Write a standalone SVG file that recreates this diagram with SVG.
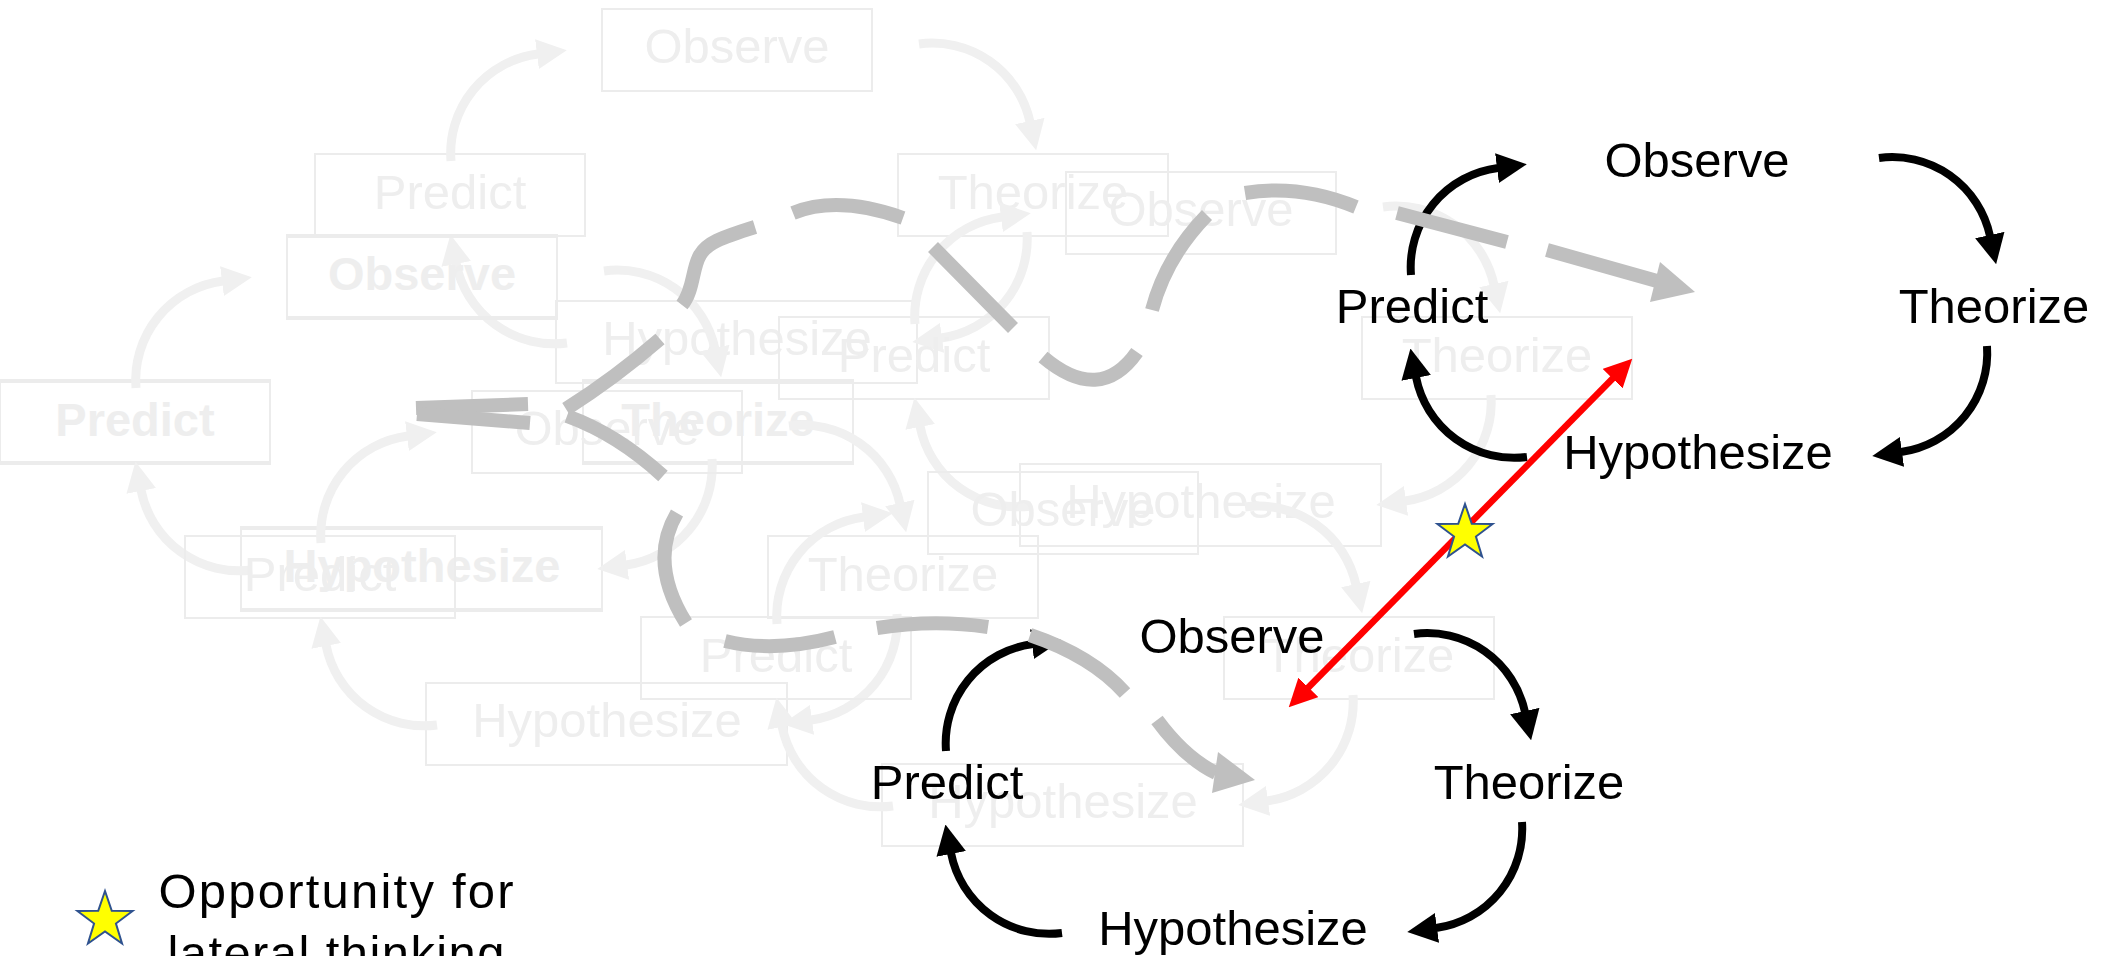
<svg xmlns="http://www.w3.org/2000/svg" xmlns:xlink="http://www.w3.org/1999/xlink" width="2116" height="956" viewBox="0 0 2116 956">
<style>
.fbox{fill:none;stroke:#ececec;stroke-width:2}
.ftext{font-family:'Liberation Sans',Arial,sans-serif;font-size:49px;fill:#eeeeee;text-anchor:middle}
.fbold{font-weight:bold;font-size:47px}
.farrow{fill:none;stroke:#f0f0f0;stroke-width:9;marker-end:url(#ah-faded)}
.btext{font-family:'Liberation Sans',Arial,sans-serif;font-size:49px;fill:#000;text-anchor:middle}
.barrow{fill:none;stroke:#000;stroke-width:8;marker-end:url(#ah-black)}
.dash{fill:none;stroke:#bfbfbf;stroke-width:14;stroke-linecap:butt}
.dhead{fill:#bfbfbf}
.star{fill:#ffff00;stroke:#2f528f;stroke-width:2;stroke-linejoin:miter}
.legend{font-family:'Liberation Sans',Arial,sans-serif;font-size:49px;fill:#000;text-anchor:middle}
</style>
<defs>
<marker id="ah-black" viewBox="0 0 30 30" refX="1" refY="15" markerWidth="30" markerHeight="30" markerUnits="userSpaceOnUse" orient="auto"><path d="M0,0 L30,15 L0,30 z" fill="#000"/></marker>
<marker id="ah-faded" viewBox="0 0 30 30" refX="1" refY="15" markerWidth="30" markerHeight="30" markerUnits="userSpaceOnUse" orient="auto"><path d="M0,0 L30,15 L0,30 z" fill="#f0f0f0"/></marker>
<marker id="ah-red" viewBox="0 0 28 28" refX="1" refY="14" markerWidth="28" markerHeight="28" markerUnits="userSpaceOnUse" orient="auto-start-reverse"><path d="M0,0 L28,14 L0,28 z" fill="#ff0000"/></marker>
<path id="star5" d="M0,-29 L6.76,-9.3 L27.58,-8.96 L10.94,3.55 L17.05,23.46 L0,11.5 L-17.05,23.46 L-10.94,3.55 L-27.58,-8.96 L-6.76,-9.3 Z"/>
</defs>
<rect width="2116" height="956" fill="#ffffff"/>

<!-- Faded cycle A -->
<g id="cycle-a" transform="translate(737,50)">
  <g id="a-observe"><rect class="fbox" x="-135" y="-41" width="270" height="82"/><text class="ftext" x="0" y="13">Observe</text></g>
  <g id="a-theorize"><rect class="fbox" x="161" y="104" width="270" height="82"/><text class="ftext" x="296" y="159">Theorize</text></g>
  <g id="a-hypothesize"><rect class="fbox" x="-181" y="251" width="361" height="82"/><text class="ftext" x="0" y="305">Hypothesize</text></g>
  <g id="a-predict"><rect class="fbox" x="-422" y="104" width="270" height="82"/><text class="ftext" x="-287" y="159">Predict</text></g>
  <g id="a-arrows">
    <path class="farrow" d="M-286,111 A100,100 0 0 1 -199,4"/>
    <path class="farrow" d="M182,-6 A100,100 0 0 1 293,72"/>
    <path class="farrow" d="M290,182 A100,100 0 0 1 204,288"/>
    <path class="farrow" d="M-170,293 A100,100 0 0 1 -281,213"/>
  </g>
</g>

<!-- Faded cycle B (bold) -->
<g id="cycle-b" transform="translate(422,277)">
  <g id="b-observe"><rect class="fbox" x="-135" y="-42" width="270" height="82"/><rect class="fbox" x="-135" y="-40" width="270" height="82"/><text class="ftext fbold" x="0" y="13">Observe</text></g>
  <g id="b-theorize"><rect class="fbox" x="161" y="103" width="270" height="82"/><rect class="fbox" x="161" y="105" width="270" height="82"/><text class="ftext fbold" x="296" y="159">Theorize</text></g>
  <g id="b-hypothesize"><rect class="fbox" x="-181" y="250" width="361" height="82"/><rect class="fbox" x="-181" y="252" width="361" height="82"/><text class="ftext fbold" x="0" y="305">Hypothesize</text></g>
  <g id="b-predict"><rect class="fbox" x="-422" y="103" width="270" height="82"/><rect class="fbox" x="-422" y="105" width="270" height="82"/><text class="ftext fbold" x="-287" y="159">Predict</text></g>
  <g id="b-arrows">
    <path class="farrow" d="M-286,111 A100,100 0 0 1 -199,4"/>
    <path class="farrow" d="M182,-6 A100,100 0 0 1 293,72"/>
    <path class="farrow" d="M290,182 A100,100 0 0 1 204,288"/>
    <path class="farrow" d="M-170,293 A100,100 0 0 1 -281,213"/>
  </g>
</g>

<!-- Faded cycle C -->
<g id="cycle-c" transform="translate(1201,213)">
  <g id="c-observe"><rect class="fbox" x="-135" y="-41" width="270" height="82"/><text class="ftext" x="0" y="13">Observe</text></g>
  <g id="c-theorize"><rect class="fbox" x="161" y="104" width="270" height="82"/><text class="ftext" x="296" y="159">Theorize</text></g>
  <g id="c-hypothesize"><rect class="fbox" x="-181" y="251" width="361" height="82"/><text class="ftext" x="0" y="305">Hypothesize</text></g>
  <g id="c-predict"><rect class="fbox" x="-422" y="104" width="270" height="82"/><text class="ftext" x="-287" y="159">Predict</text></g>
  <g id="c-arrows">
    <path class="farrow" d="M-286,111 A100,100 0 0 1 -199,4"/>
    <path class="farrow" d="M182,-6 A100,100 0 0 1 293,72"/>
    <path class="farrow" d="M290,182 A100,100 0 0 1 204,288"/>
    <path class="farrow" d="M-170,293 A100,100 0 0 1 -281,213"/>
  </g>
</g>

<!-- Faded cycle D -->
<g id="cycle-d" transform="translate(607,432)">
  <g id="d-observe"><rect class="fbox" x="-135" y="-41" width="270" height="82"/><text class="ftext" x="0" y="13">Observe</text></g>
  <g id="d-theorize"><rect class="fbox" x="161" y="104" width="270" height="82"/><text class="ftext" x="296" y="159">Theorize</text></g>
  <g id="d-hypothesize"><rect class="fbox" x="-181" y="251" width="361" height="82"/><text class="ftext" x="0" y="305">Hypothesize</text></g>
  <g id="d-predict"><rect class="fbox" x="-422" y="104" width="270" height="82"/><text class="ftext" x="-287" y="159">Predict</text></g>
  <g id="d-arrows">
    <path class="farrow" d="M-286,111 A100,100 0 0 1 -199,4"/>
    <path class="farrow" d="M182,-6 A100,100 0 0 1 293,72"/>
    <path class="farrow" d="M290,182 A100,100 0 0 1 204,288"/>
    <path class="farrow" d="M-170,293 A100,100 0 0 1 -281,213"/>
  </g>
</g>

<!-- Faded cycle E -->
<g id="cycle-e" transform="translate(1063,513)">
  <g id="e-observe"><rect class="fbox" x="-135" y="-41" width="270" height="82"/><text class="ftext" x="0" y="13">Observe</text></g>
  <g id="e-theorize"><rect class="fbox" x="161" y="104" width="270" height="82"/><text class="ftext" x="296" y="159">Theorize</text></g>
  <g id="e-hypothesize"><rect class="fbox" x="-181" y="251" width="361" height="82"/><text class="ftext" x="0" y="305">Hypothesize</text></g>
  <g id="e-predict"><rect class="fbox" x="-422" y="104" width="270" height="82"/><text class="ftext" x="-287" y="159">Predict</text></g>
  <g id="e-arrows">
    <path class="farrow" d="M-286,111 A100,100 0 0 1 -199,4"/>
    <path class="farrow" d="M182,-6 A100,100 0 0 1 293,72"/>
    <path class="farrow" d="M290,182 A100,100 0 0 1 204,288"/>
    <path class="farrow" d="M-170,293 A100,100 0 0 1 -281,213"/>
  </g>
</g>

<!-- Black cycle 1 -->
<g id="cycle-1" transform="translate(1697,164)">
  <g id="k1-observe"><text class="btext" x="0" y="13">Observe</text></g>
  <g id="k1-theorize"><text class="btext" x="297" y="159">Theorize</text></g>
  <g id="k1-hypothesize"><text class="btext" x="1" y="305">Hypothesize</text></g>
  <g id="k1-predict"><text class="btext" x="-285" y="159">Predict</text></g>
  <g id="k1-arrows">
    <path class="barrow" d="M-286,111 A100,100 0 0 1 -199,4"/>
    <path class="barrow" d="M182,-6 A100,100 0 0 1 293,72"/>
    <path class="barrow" d="M290,182 A100,100 0 0 1 204,288"/>
    <path class="barrow" d="M-170,293 A100,100 0 0 1 -281,213"/>
  </g>
</g>

<!-- Black cycle 2 -->
<g id="cycle-2" transform="translate(1232,640)">
  <g id="k2-observe"><text class="btext" x="0" y="13">Observe</text></g>
  <g id="k2-theorize"><text class="btext" x="297" y="159">Theorize</text></g>
  <g id="k2-hypothesize"><text class="btext" x="1" y="305">Hypothesize</text></g>
  <g id="k2-predict"><text class="btext" x="-285" y="159">Predict</text></g>
  <g id="k2-arrows">
    <path class="barrow" d="M-286,111 A100,100 0 0 1 -199,4"/>
    <path class="barrow" d="M182,-6 A100,100 0 0 1 293,72"/>
    <path class="barrow" d="M290,182 A100,100 0 0 1 204,288"/>
    <path class="barrow" d="M-170,293 A100,100 0 0 1 -281,213"/>
  </g>
</g>

<!-- Dashed trajectory connectors -->
<g id="connectors">
  <g id="path-upper">
    <path class="dash" d="M416,408 L528,404 M566,409 Q615,378 660,339 M682,305 C694,290 692,268 700,255 C707,243 720,238 755,227 M793,213 Q838,195 903,218 M933,247 L1013,328 M1043,357 Q1100,405 1137,352 M1152,310 Q1166,257 1207,215 M1245,193 Q1300,184 1356,207 M1397,213 L1507,242 M1547,250 L1657,281"/>
    <polygon class="dhead" points="1660,262 1695,292 1650,302"/>
  </g>
  <g id="path-lower">
    <path class="dash" d="M417,414 L530,423 M567,416 Q617,434 663,476 M677,513 Q648,562 686,623 M725,641 Q774,653 835,637 M877,628 Q933,619 988,627 M1030,635 Q1092,656 1125,693 M1157,720 Q1185,758 1216,773"/>
    <polygon class="dhead" points="1218,752 1255,780 1212,793"/>
  </g>
  <g id="lateral-link">
    <line x1="1307.7" y1="688.1" x2="1613.3" y2="377.9" stroke="#ff0000" stroke-width="6.5" marker-start="url(#ah-red)" marker-end="url(#ah-red)"/>
  </g>
</g>

<g id="star-marker">
  <use xlink:href="#star5" href="#star5" class="star" transform="translate(1465,533)"/>
</g>

<g id="legend">
  <use xlink:href="#star5" href="#star5" class="star" transform="translate(105,920)"/>
  <text class="legend" x="336" y="908" textLength="355" lengthAdjust="spacing">Opportunity for</text>
  <text class="legend" x="336" y="970" textLength="337" lengthAdjust="spacing">lateral thinking</text>
</g>
</svg>
